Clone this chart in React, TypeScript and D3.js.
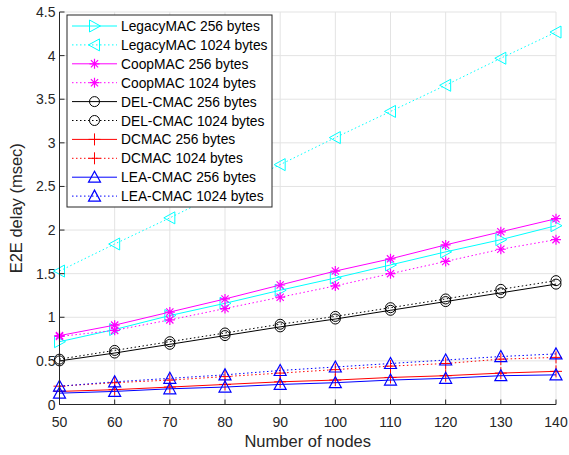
import React from "react";
import * as d3 from "d3";

const nodes = [50, 60, 70, 80, 90, 100, 110, 120, 130, 140];
const legacy256 = [0.72, 0.86, 1.02, 1.16, 1.31, 1.45, 1.60, 1.75, 1.89, 2.05];
const legacy1024 = [1.53, 1.84, 2.14, 2.45, 2.75, 3.06, 3.36, 3.66, 3.97, 4.27];
const coop256 = [0.79, 0.91, 1.06, 1.21, 1.37, 1.53, 1.67, 1.83, 1.98, 2.13];
const coop1024 = [0.78, 0.85, 0.97, 1.10, 1.23, 1.36, 1.50, 1.64, 1.78, 1.89];
const del256 = [0.50, 0.59, 0.69, 0.79, 0.89, 0.98, 1.08, 1.18, 1.28, 1.38];
const del1024 = [0.52, 0.62, 0.72, 0.82, 0.92, 1.01, 1.11, 1.21, 1.32, 1.42];
const dcmac256 = [0.15, 0.17, 0.20, 0.23, 0.26, 0.28, 0.31, 0.33, 0.36, 0.38];
const dcmac1024 = [0.21, 0.25, 0.28, 0.32, 0.36, 0.40, 0.44, 0.47, 0.52, 0.54];
const lea256 = [0.13, 0.15, 0.18, 0.20, 0.23, 0.25, 0.28, 0.30, 0.33, 0.34];
const lea1024 = [0.21, 0.26, 0.30, 0.34, 0.39, 0.43, 0.47, 0.51, 0.55, 0.58];

const xTicks = [50, 60, 70, 80, 90, 100, 110, 120, 130, 140];
const yTicks = [0, 0.5, 1, 1.5, 2, 2.5, 3, 3.5, 4, 4.5];

type Marker = "right" | "left" | "star" | "circle" | "plus" | "up";
const series: { name: string; values: number[]; color: string; dotted: boolean; marker: Marker }[] = [
  { name: "LegacyMAC 256 bytes", values: legacy256, color: "#00FFFF", dotted: false, marker: "right" },
  { name: "LegacyMAC 1024 bytes", values: legacy1024, color: "#00FFFF", dotted: true, marker: "left" },
  { name: "CoopMAC 256 bytes", values: coop256, color: "#FF00FF", dotted: false, marker: "star" },
  { name: "CoopMAC 1024 bytes", values: coop1024, color: "#FF00FF", dotted: true, marker: "star" },
  { name: "DEL-CMAC 256 bytes", values: del256, color: "#000000", dotted: false, marker: "circle" },
  { name: "DEL-CMAC 1024 bytes", values: del1024, color: "#000000", dotted: true, marker: "circle" },
  { name: "DCMAC 256 bytes", values: dcmac256, color: "#FF0000", dotted: false, marker: "plus" },
  { name: "DCMAC 1024 bytes", values: dcmac1024, color: "#FF0000", dotted: true, marker: "plus" },
  { name: "LEA-CMAC 256 bytes", values: lea256, color: "#0000FF", dotted: false, marker: "up" },
  { name: "LEA-CMAC 1024 bytes", values: lea1024, color: "#0000FF", dotted: true, marker: "up" },
];

const W = 569, H = 455;
const left = 59.5, right = 556, top = 12, bottom = 404.5;
const font = "'Liberation Sans', Arial, sans-serif";

function MarkerShape({ type, x, y, color }: { type: Marker; x: number; y: number; color: string }) {
  const sw = 1;
  switch (type) {
    case "right":
      return <polygon points={`${x + 6},${y} ${x - 5},${y - 6} ${x - 5},${y + 6}`} fill="none" stroke={color} strokeWidth={sw} />;
    case "left":
      return <polygon points={`${x - 6},${y} ${x + 5},${y - 6} ${x + 5},${y + 6}`} fill="none" stroke={color} strokeWidth={sw} />;
    case "up":
      return <polygon points={`${x},${y - 6} ${x - 6},${y + 5} ${x + 6},${y + 5}`} fill="none" stroke={color} strokeWidth={1.2} />;
    case "circle":
      return <circle cx={x} cy={y} r={5} fill="none" stroke={color} strokeWidth={sw} />;
    case "plus":
      return (
        <path d={`M${x - 6},${y}H${x + 6}M${x},${y - 6}V${y + 6}`} stroke={color} strokeWidth={sw} fill="none" />
      );
    case "star":
      return (
        <path
          d={`M${x - 5},${y}H${x + 5}M${x},${y - 5}V${y + 5}M${x - 3.6},${y - 3.6}L${x + 3.6},${y + 3.6}M${x - 3.6},${y + 3.6}L${x + 3.6},${y - 3.6}`}
          stroke={color}
          strokeWidth={1.2}
          fill="none"
        />
      );
  }
}

export default function App() {
  const x = d3.scaleLinear().domain([50, 140]).range([left, right]);
  const y = d3.scaleLinear().domain([0, 4.5]).range([bottom, top]);
  const line = d3
    .line<number>()
    .x((_, i) => x(nodes[i]))
    .y((d) => y(d));

  const legX = 67, legY = 15, legW = 205, legH = 192;
  const rowH = 18.9;

  return (
    <svg width={W} height={H} style={{ position: "absolute", left: 0, top: 0, background: "#fff" }}>
      <rect x={0} y={0} width={W} height={H} fill="#fff" />
      {xTicks.map((t) => (
        <line key={"gx" + t} x1={x(t)} x2={x(t)} y1={top} y2={bottom} stroke="#e3e3e3" strokeWidth={1} />
      ))}
      {yTicks.map((t) => (
        <line key={"gy" + t} x1={left} x2={right} y1={y(t)} y2={y(t)} stroke="#e3e3e3" strokeWidth={1} />
      ))}
      {series.map((s) => (
        <g key={s.name}>
          <path
            d={line(s.values) || ""}
            fill="none"
            stroke={s.color}
            strokeWidth={1}
            strokeDasharray={s.dotted ? "1.5,2.5" : undefined}
          />
          {s.values.map((v, i) => (
            <MarkerShape key={i} type={s.marker} x={x(nodes[i])} y={y(v)} color={s.color} />
          ))}
        </g>
      ))}
      <line x1={left} x2={right} y1={bottom} y2={bottom} stroke="#262626" strokeWidth={1} />
      <line x1={left} x2={left} y1={top} y2={bottom} stroke="#262626" strokeWidth={1} />
      {xTicks.map((t) => (
        <g key={"xt" + t}>
          <line x1={x(t)} x2={x(t)} y1={bottom} y2={bottom - 5} stroke="#262626" />
          <text x={x(t)} y={bottom + 22} textAnchor="middle" fontFamily={font} fontSize={14} fill="#262626">
            {t}
          </text>
        </g>
      ))}
      {yTicks.map((t) => (
        <g key={"yt" + t}>
          <line x1={left} x2={left + 5} y1={y(t)} y2={y(t)} stroke="#262626" />
          <text x={left - 4} y={y(t) + 5} textAnchor="end" fontFamily={font} fontSize={14} fill="#262626">
            {t}
          </text>
        </g>
      ))}
      <text x={(left + right) / 2} y={447} textAnchor="middle" fontFamily={font} fontSize={16.5} fill="#262626">
        Number of nodes
      </text>
      <text
        transform={`translate(22,${(top + bottom) / 2}) rotate(-90)`}
        textAnchor="middle"
        fontFamily={font}
        fontSize={16.5}
        fill="#262626"
      >
        E2E delay (msec)
      </text>
      <rect x={legX} y={legY} width={legW} height={legH} fill="#fff" stroke="#262626" strokeWidth={1} />
      {series.map((s, i) => {
        const cy = legY + 11 + i * rowH;
        return (
          <g key={"lg" + s.name}>
            <line
              x1={72}
              x2={117}
              y1={cy}
              y2={cy}
              stroke={s.color}
              strokeWidth={1}
              strokeDasharray={s.dotted ? "1.5,2.5" : undefined}
            />
            <MarkerShape type={s.marker} x={94.5} y={cy} color={s.color} />
            <text x={121} y={cy + 5} fontFamily={font} fontSize={13.8} fill="#000">
              {s.name}
            </text>
          </g>
        );
      })}
    </svg>
  );
}
